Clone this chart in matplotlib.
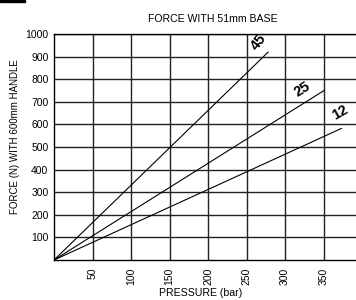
import matplotlib
matplotlib.use("Agg")
import matplotlib.pyplot as plt
from matplotlib.patches import Rectangle

plt.rcParams['font.family'] = ['Liberation Sans', 'DejaVu Sans']

series_names = ["45", "25", "12"]
end_pressure = [278, 351, 373]
end_force = [920, 751, 582]
label_pos = [(265, 964), (322, 756), (371, 653)]
label_rot = [52, 32, 30]
x_ticks = [50, 100, 150, 200, 250, 300, 350]
y_ticks = [100, 200, 300, 400, 500, 600, 700, 800, 900, 1000]

fig = plt.figure(figsize=(3.56, 3.0), dpi=100)
ax = fig.add_axes([54/356, 40/300, 1 - 54/356, 226/300])
ax.set_xlim(0, 392)
ax.set_ylim(0, 1000)

for x in x_ticks:
    ax.axvline(x, color='#222222', lw=1.0, zorder=1)
for y in y_ticks:
    ax.axhline(y, color='#222222', lw=1.0, zorder=1)

for name, px, fy, pos, rot in zip(series_names, end_pressure, end_force, label_pos, label_rot):
    ax.plot([0, px], [0, fy], color='black', lw=0.8, zorder=3)
    ax.text(pos[0], pos[1], name, fontsize=10.5, fontweight='bold', rotation=rot,
            ha='center', va='center', zorder=4)

ax.set_xticks(x_ticks)
ax.set_xticklabels([str(v) for v in x_ticks], rotation=90, fontsize=7.5)
ax.set_yticks(y_ticks)
ax.set_yticklabels([str(v) for v in y_ticks], fontsize=7.5)
ax.tick_params(length=0)
ax.tick_params(axis='x', pad=5.5)
ax.tick_params(axis='y', pad=4)
for s in ['left', 'bottom', 'top']:
    ax.spines[s].set_color('black')
    ax.spines[s].set_linewidth(1.0)
ax.spines['right'].set_visible(False)

fig.text(213/356, 1 - 19/300, "FORCE WITH 51mm BASE", ha='center', va='center', fontsize=7.6)
fig.text(201/356, 1 - 293/300, "PRESSURE (bar)", ha='center', va='center', fontsize=7.6)
fig.text(15/356, 1 - 137/300, "FORCE (N) WITH 600mm HANDLE", ha='center', va='center',
         fontsize=7, rotation=90)
fig.patches.append(Rectangle((0, 1 - 2/300), 25/356, 2/300, transform=fig.transFigure,
                             color='black', figure=fig))

fig.savefig("out.png", dpi=100)
